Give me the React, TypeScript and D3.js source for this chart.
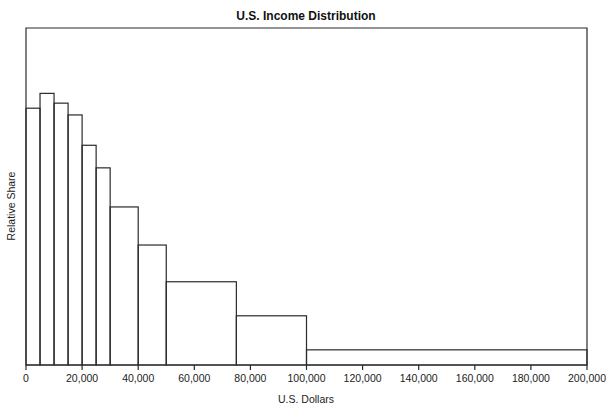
import React from "react";
import * as d3 from "d3";

const binStarts = [0, 5000, 10000, 15000, 20000, 25000, 30000, 40000, 50000, 75000, 100000];
const binEnds = [5000, 10000, 15000, 20000, 25000, 30000, 40000, 50000, 75000, 100000, 200000];
const shares = [76.2, 80.6, 77.7, 74.2, 65.2, 58.5, 46.9, 35.6, 24.7, 14.6, 4.5];
const xTicks = [0, 20000, 40000, 60000, 80000, 100000, 120000, 140000, 160000, 180000, 200000];

const W = 612;
const H = 409;
const left = 26;
const right = 587;
const top = 28;
const bottom = 365;
const font = "'Liberation Sans', Arial, Helvetica, sans-serif";
const ink = "#2a2a2a";

export default function App() {
  const x = d3.scaleLinear().domain([0, 200000]).range([left, right]);
  const y = d3.scaleLinear().domain([0, 100]).range([bottom, top]);
  const fmt = d3.format(",");
  return (
    <svg width={W} height={H} style={{ position: "absolute", left: 0, top: 0, background: "#fff" }}>
      <rect x={0} y={0} width={W} height={H} fill="#fff" />
      <text x={306} y={20} textAnchor="middle" fontFamily={font} fontWeight="bold" fontSize={12} fill="#111">
        U.S. Income Distribution
      </text>
      {shares.map((v, i) => (
        <rect
          key={i}
          x={x(binStarts[i])}
          y={y(v)}
          width={x(binEnds[i]) - x(binStarts[i])}
          height={y(0) - y(v)}
          fill="none"
          stroke={ink}
          strokeWidth={1.2}
        />
      ))}
      <path d={`M${left},${bottom}V${top}H${right}V${bottom}`} fill="none" stroke={ink} strokeWidth={1.2} />
      <line x1={left} x2={right} y1={bottom} y2={bottom} stroke={ink} strokeWidth={1.2} />
      {xTicks.map((t) => (
        <g key={t}>
          <line x1={x(t)} x2={x(t)} y1={bottom} y2={bottom + 5} stroke={ink} strokeWidth={1.2} />
          <text x={x(t)} y={382} textAnchor="middle" fontFamily={font} fontSize={10.5} fill="#222">
            {fmt(t)}
          </text>
        </g>
      ))}
      <text x={306} y={403} textAnchor="middle" fontFamily={font} fontSize={10.5} fill="#222">
        U.S. Dollars
      </text>
      <text
        transform={`translate(15,206) rotate(-90)`}
        textAnchor="middle"
        fontFamily={font}
        fontSize={10.5}
        fill="#222"
      >
        Relative Share
      </text>
    </svg>
  );
}
